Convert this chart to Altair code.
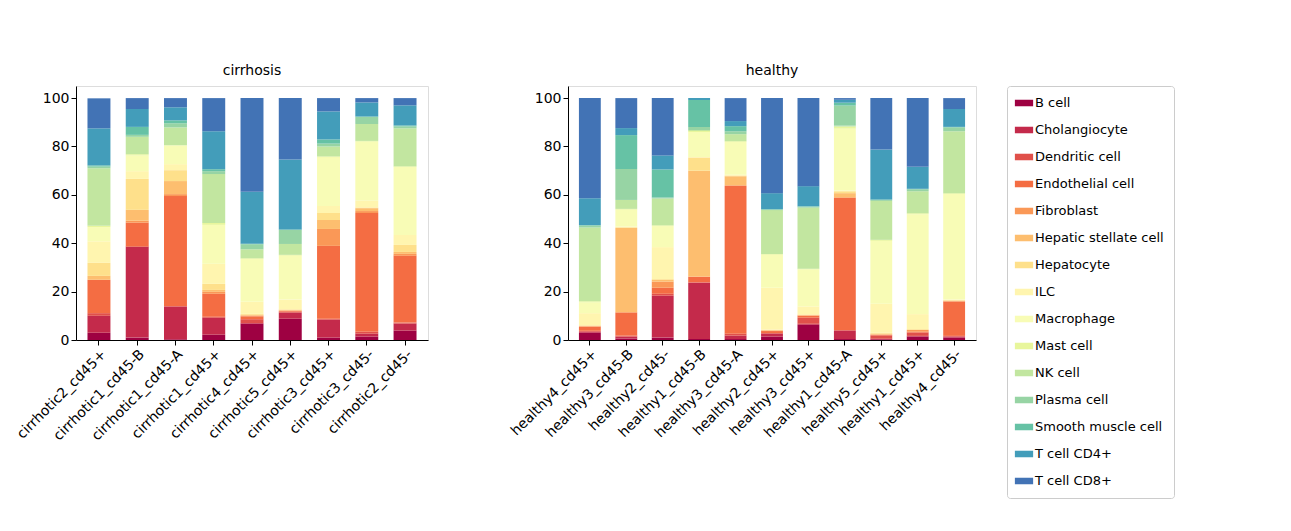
import altair as alt
import pandas as pd

cell_types = [
    "B cell", "Cholangiocyte", "Dendritic cell", "Endothelial cell", "Fibroblast",
    "Hepatic stellate cell", "Hepatocyte", "ILC", "Macrophage", "Mast cell",
    "NK cell", "Plasma cell", "Smooth muscle cell", "T cell CD4+", "T cell CD8+",
]
colors = [
    "#9e0142", "#c42a4b", "#e0504a", "#f46d43", "#fa9857", "#fdbe6f", "#fee08b",
    "#fff5af", "#f8fcb6", "#e8f69c", "#c2e6a0", "#97d4a4", "#66c2a5", "#439dba", "#4273b5",
]

cirrhosis_samples = [
    "cirrhotic2_cd45+", "cirrhotic1_cd45-B", "cirrhotic1_cd45-A", "cirrhotic1_cd45+",
    "cirrhotic4_cd45+", "cirrhotic5_cd45+", "cirrhotic3_cd45+", "cirrhotic3_cd45-",
    "cirrhotic2_cd45-",
]
healthy_samples = [
    "healthy4_cd45+", "healthy3_cd45-B", "healthy2_cd45-", "healthy1_cd45-B",
    "healthy3_cd45-A", "healthy2_cd45+", "healthy3_cd45+", "healthy1_cd45-A",
    "healthy5_cd45+", "healthy1_cd45+", "healthy4_cd45-",
]

# percentages per sample, one row per sample, columns in cell_types order
cirrhosis_pct = [
    [3.0, 7.0, 1.1, 13.8, 0.0, 1.6, 5.4, 8.9, 5.9, 0.5, 23.8, 0.7, 0.5, 15.3, 12.4],
    [1.0, 37.6, 0.0, 9.9, 0.8, 4.5, 12.8, 3.2, 6.5, 0.5, 7.2, 0.8, 3.3, 7.4, 4.5],
    [0.3, 13.5, 0.3, 45.4, 0.8, 5.4, 4.5, 2.5, 7.8, 0.0, 7.4, 1.7, 1.2, 5.4, 3.8],
    [2.2, 7.0, 0.4, 9.5, 0.8, 0.8, 2.5, 8.3, 16.1, 0.8, 20.2, 1.2, 0.8, 15.7, 13.7],
    [6.7, 0.3, 1.6, 1.2, 0.3, 0.3, 0.4, 5.0, 17.7, 0.3, 3.7, 2.1, 0.2, 21.5, 38.7],
    [8.8, 2.5, 0.4, 0.3, 0.2, 0.3, 0.2, 4.0, 18.2, 0.3, 4.5, 5.8, 0.2, 28.9, 25.4],
    [1.0, 7.4, 0.4, 30.1, 7.0, 3.7, 2.9, 2.9, 20.2, 0.3, 4.1, 1.2, 1.7, 11.6, 5.5],
    [1.4, 1.2, 0.8, 49.1, 0.8, 1.2, 0.3, 2.9, 24.3, 0.3, 7.0, 2.9, 0.2, 5.8, 1.8],
    [3.9, 2.9, 0.4, 27.6, 0.8, 0.8, 2.9, 4.1, 28.1, 0.3, 15.7, 0.8, 0.4, 8.3, 3.0],
]
healthy_pct = [
    [3.0, 0.4, 0.4, 1.7, 0.2, 0.2, 0.2, 5.0, 4.5, 0.4, 30.5, 0.8, 0.2, 11.1, 41.4],
    [0.6, 0.8, 0.4, 9.5, 0.3, 34.7, 0.3, 0.3, 7.0, 0.3, 3.7, 12.8, 14.0, 2.9, 12.4],
    [1.0, 17.3, 0.8, 2.5, 2.5, 0.8, 0.3, 13.2, 8.7, 0.3, 11.1, 0.4, 11.6, 5.8, 23.7],
    [0.4, 23.3, 0.2, 2.1, 0.3, 43.7, 5.4, 0.3, 10.3, 0.4, 0.4, 1.2, 11.2, 0.8, 0.0],
    [0.4, 1.4, 0.8, 61.1, 0.3, 3.7, 0.3, 0.3, 13.6, 0.3, 2.9, 1.2, 2.1, 2.1, 9.5],
    [1.4, 1.2, 0.3, 0.8, 0.2, 0.2, 0.2, 17.3, 13.6, 0.3, 18.2, 0.2, 0.2, 6.6, 39.3],
    [6.3, 0.4, 2.5, 0.8, 0.2, 0.2, 0.2, 3.3, 15.3, 0.3, 25.2, 0.4, 0.2, 8.3, 36.4],
    [0.4, 3.4, 0.3, 54.6, 0.3, 1.7, 0.8, 0.3, 25.6, 0.8, 0.4, 8.3, 1.2, 1.2, 0.7],
    [0.3, 0.2, 1.4, 0.2, 0.2, 0.3, 0.4, 12.0, 26.0, 0.4, 16.1, 0.4, 0.2, 20.6, 21.3],
    [1.4, 0.3, 1.4, 0.3, 0.8, 0.0, 0.3, 6.2, 41.3, 0.4, 9.1, 0.8, 0.2, 9.1, 28.4],
    [1.0, 0.4, 0.3, 14.2, 0.2, 0.2, 0.2, 0.2, 43.7, 0.3, 25.6, 1.6, 0.2, 7.4, 4.5],
]


def to_long(samples, pct):
    rows = []
    for s, vals in zip(samples, pct):
        for i, (ct, v) in enumerate(zip(cell_types, vals)):
            rows.append({"sample": s, "cell_type": ct, "idx": i, "pct": v})
    return pd.DataFrame(rows)


color = alt.Color("cell_type:N").scale(domain=cell_types, range=colors).legend(
    title=None,
    symbolType="M-1.4,-0.5H1.4V0.5H-1.4Z",
    symbolSize=170,
    symbolStrokeWidth=0,
    symbolOpacity=1,
    labelFontSize=13,
    labelFont="DejaVu Sans",
    labelColor="black",
    labelLimit=300,
    rowPadding=13,
    padding=10,
    strokeColor="#cccccc",
    cornerRadius=3,
    offset=30,
    orient="right",
)

axis_style = dict(
    domain=True, domainColor="black", labelFontSize=14, labelFont="DejaVu Sans",
    labelColor="black", tickColor="black", tickSize=5,
)


def panel(samples, pct, title, width):
    return (
        alt.Chart(to_long(samples, pct), title=alt.Title(title, fontSize=14, fontWeight="normal", font="DejaVu Sans", offset=8))
        .mark_bar()
        .encode(
            alt.X("sample:N", sort=samples)
            .title(None)
            .scale(paddingInner=0.4, paddingOuter=0.3)
            .axis(labelAngle=-45, labelAlign="right", labelBaseline="top", labelLimit=300, **axis_style),
            alt.Y("sum(pct):Q")
            .title(None)
            .stack("zero")
            .scale(domain=[0, 105], nice=False)
            .axis(values=[0, 20, 40, 60, 80, 100], grid=False, **axis_style),
            color=color,
            order=alt.Order("idx:Q"),
        )
        .properties(width=width, height=254)
    )


chart = (
    alt.hconcat(
        panel(cirrhosis_samples, cirrhosis_pct, "cirrhosis", 352),
        panel(healthy_samples, healthy_pct, "healthy", 408),
        spacing=78,
    )
    .properties(padding={"left": 5, "top": 55, "right": 5, "bottom": 5})
    .configure_view(stroke="#000000", strokeOpacity=1, strokeWidth=1)
    .configure(background="white")
)

chart.save("out.html", embed_options={"renderer": "svg", "actions": False})
